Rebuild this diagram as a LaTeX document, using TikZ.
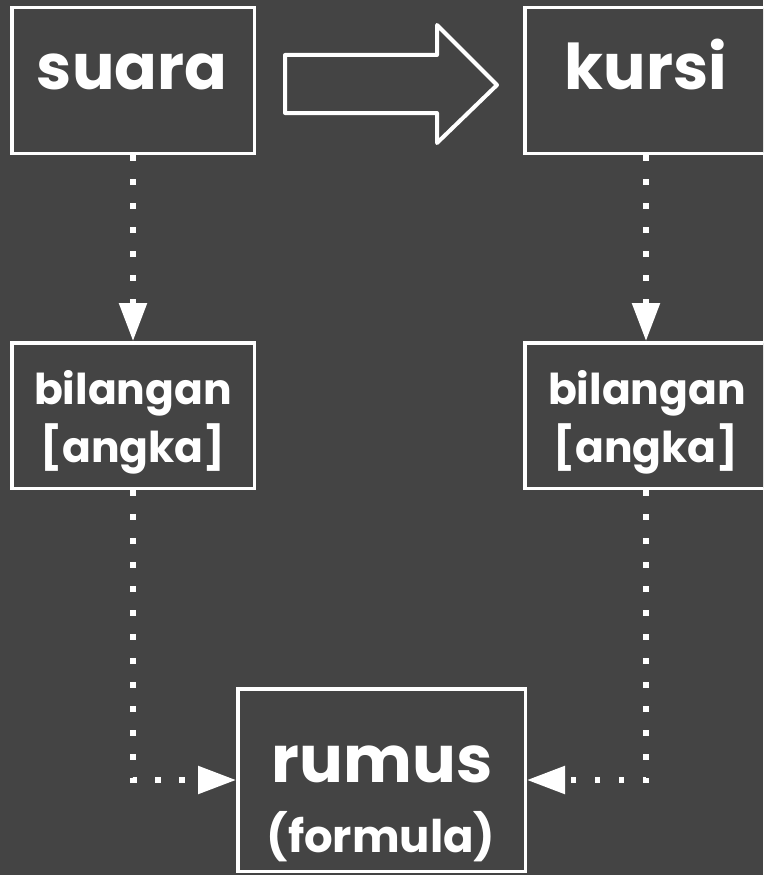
\documentclass[tikz,border=0pt]{standalone}
\usepackage{fontspec}
\setmainfont{Poppins}
\usetikzlibrary{arrows.meta}
\definecolor{bg}{HTML}{444444}
\tikzset{
  box/.style={draw=white, line width=3.5pt, fill=bg, rectangle, inner sep=0pt,
    minimum width=242.5pt, minimum height=145.5pt},
  txt/.style={text=white, inner sep=0pt, anchor=base},
  bigtxt/.style={txt, font=\fontsize{63}{70}\selectfont\bfseries},
  midtxt/.style={txt, font=\fontsize{42.5}{50}\selectfont\bfseries},
  dotline/.style={draw=white, line width=5.5pt, dash pattern=on 5.5pt off 18.5pt,
    -{Triangle[length=38pt,width=27pt]}},
  blockarrow/.style={draw=white, line width=4pt, line join=round, fill=bg}
}
\begin{document}
\begin{tikzpicture}[x=1pt,y=-1pt]
\fill[bg] (0,0) rectangle (763,875);
\useasboundingbox (0,0) rectangle (763,875);
\clip (0,0) rectangle (763,875);
% boxes
\node[box] (suara) at (133,80.5) {};
\node[box] (kursi) at (646,80.5) {};
\node[box] (bil1) at (133,415.5) {};
\node[box] (bil2) at (646,415.5) {};
\node[box, minimum width=287.5pt, minimum height=182.5pt] (rumus) at (381.5,780) {};
% texts
\node[bigtxt] (suaraT) at (132,89) {suara};
\node[bigtxt] (kursiT) at (646,89) {kursi};
\node[midtxt] (bil1a) at (133,404) {bilangan};
\node[midtxt] (bil1b) at (133,462) {[angka]};
\node[midtxt] (bil2a) at (647,404) {bilangan};
\node[midtxt] (bil2b) at (646,462) {[angka]};
\node[txt, font=\fontsize{65}{70}\selectfont\bfseries] (rumusT) at (382,782) {rumus};
\node[txt, font=\fontsize{45}{50}\selectfont\bfseries] (formT) at (381,852) {(formula)};
% block arrow
\draw[blockarrow] (285,55) -- (437,55) -- (437,25) -- (497,85) -- (437,143) -- (437,113) -- (285,113) -- cycle;
% connectors
\draw[dotline] (suara.south) -- (bil1.north);
\draw[dotline] (kursi.south) -- (bil2.north);
\draw[dotline] (bil1.south) |- (rumus.west);
\draw[dotline] (bil2.south) |- (rumus.east);
\end{tikzpicture}
\end{document}
